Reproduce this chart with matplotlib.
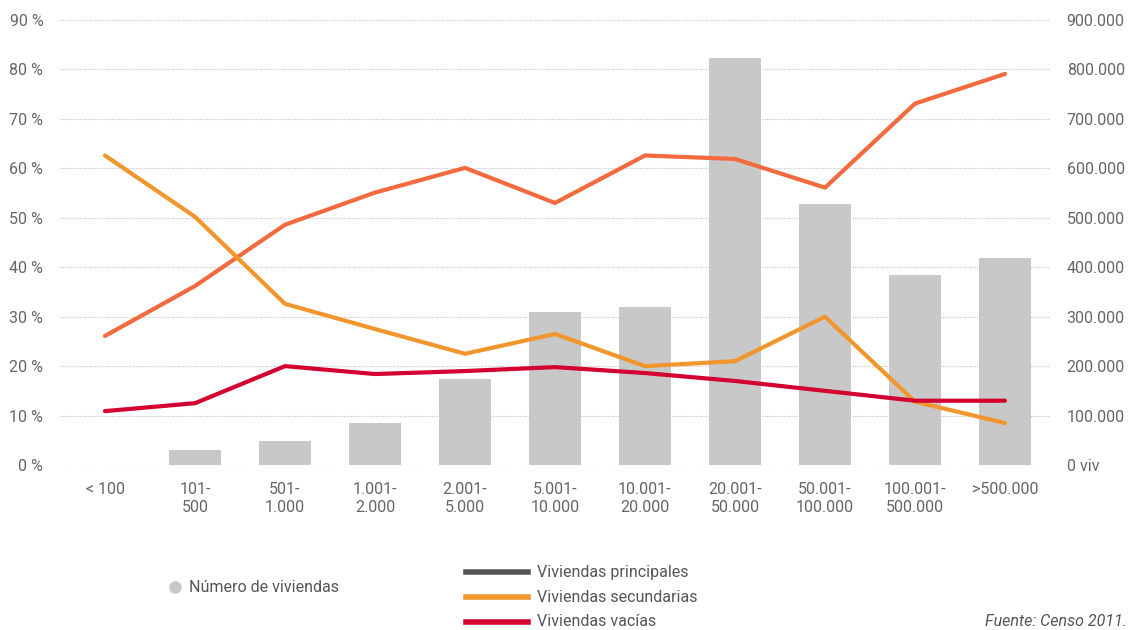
import matplotlib
matplotlib.use("Agg")
import matplotlib.pyplot as plt
from matplotlib.lines import Line2D
import numpy as np

plt.rcParams['font.family'] = ['Roboto', 'DejaVu Sans']

categories = ["< 100", "101-\n500", "501-\n1.000", "1.001-\n2.000", "2.001-\n5.000",
              "5.001-\n10.000", "10.001-\n20.000", "20.001-\n50.000", "50.001-\n100.000",
              "100.001-\n500.000", ">500.000"]
num_viviendas = [0, 30000, 48000, 85000, 174000, 310000, 320000, 824000, 528000, 385000, 419000]
principales = [26.1, 36.2, 48.6, 55.1, 60.1, 53.0, 62.6, 61.9, 56.1, 73.1, 79.1]
secundarias = [62.6, 50.2, 32.6, 27.5, 22.5, 26.5, 20.0, 21.0, 30.0, 12.8, 8.5]
vacias = [10.9, 12.5, 20.0, 18.4, 19.0, 19.8, 18.6, 17.0, 15.0, 13.0, 13.0]

pct_ticks = list(range(0, 91, 10))
viv_ticks = list(range(0, 900001, 100000))

c_bar = "#C8C8C8"
c_princ = "#F26A3D"
c_sec = "#F0962D"
c_vac = "#D4002F"
c_legend_princ = "#555555"
c_text = "#666666"
fs = 11.5

fig = plt.figure(figsize=(11.3, 6.3), dpi=100)
ax_bar = fig.add_axes([0.0531, 0.2619, 0.8761, 0.7063])
ax = ax_bar.twinx()
ax.set_zorder(ax_bar.get_zorder() + 1)
ax.patch.set_visible(False)

x = np.arange(len(categories))

# Bars: number of dwellings on the right axis
ax_bar.bar(x, num_viviendas, width=0.58, color=c_bar, zorder=2)
ax_bar.set_ylim(0, 900000)
ax_bar.set_xlim(-0.5, len(categories) - 0.5)
ax_bar.set_yticks(viv_ticks)
ax_bar.set_yticklabels(["0 viv" if v == 0 else f"{v:,}".replace(",", ".") for v in viv_ticks])
ax_bar.yaxis.tick_right()
ax_bar.grid(axis='y', color="#C4C4C4", linestyle=(0, (1, 1.2)), linewidth=0.8, zorder=0)
ax_bar.set_axisbelow(True)

# Percentage lines on the left axis
ax.plot(x, principales, color=c_princ, lw=3, solid_capstyle='round', solid_joinstyle='round')
ax.plot(x, secundarias, color=c_sec, lw=3, solid_capstyle='round', solid_joinstyle='round')
ax.plot(x, vacias, color=c_vac, lw=3, solid_capstyle='round', solid_joinstyle='round')
ax.set_ylim(0, 90)
ax.set_yticks(pct_ticks)
ax.set_yticklabels([f"{v} %" for v in pct_ticks])
ax.yaxis.tick_left()

ax_bar.set_xticks(x)
ax_bar.set_xticklabels(categories, linespacing=1.3)

for a in (ax, ax_bar):
    for s in a.spines.values():
        s.set_visible(False)
    a.tick_params(length=0, labelsize=fs, labelcolor=c_text)
ax_bar.tick_params(axis='x', pad=12)
ax_bar.tick_params(axis='y', pad=12)
ax.tick_params(axis='y', pad=12)

# Legend
fig.add_artist(Line2D([175 / 1130], [1 - 587 / 630], marker='o', markersize=8,
                      color=c_bar, linestyle='none', transform=fig.transFigure))
fig.text(189 / 1130, 1 - 587 / 630, "Número de viviendas", fontsize=fs, color="#555555",
         va='center', ha='left')
legend_items = [("Viviendas principales", c_legend_princ, 572),
                ("Viviendas secundarias", c_sec, 597),
                ("Viviendas vacías", c_vac, 622)]
for label, col, yy in legend_items:
    yf = 1 - yy / 630
    fig.add_artist(Line2D([466 / 1130, 528 / 1130], [yf, yf], color=col, lw=4,
                          transform=fig.transFigure))
    fig.text(537 / 1130, yf, label, fontsize=fs, color="#555555", va='center', ha='left')

fig.text(1127 / 1130, 1 - 622 / 630, "Fuente: Censo 2011.", fontsize=fs, color="#555555",
         style='italic', va='center', ha='right')

fig.savefig("out.png", dpi=100)
